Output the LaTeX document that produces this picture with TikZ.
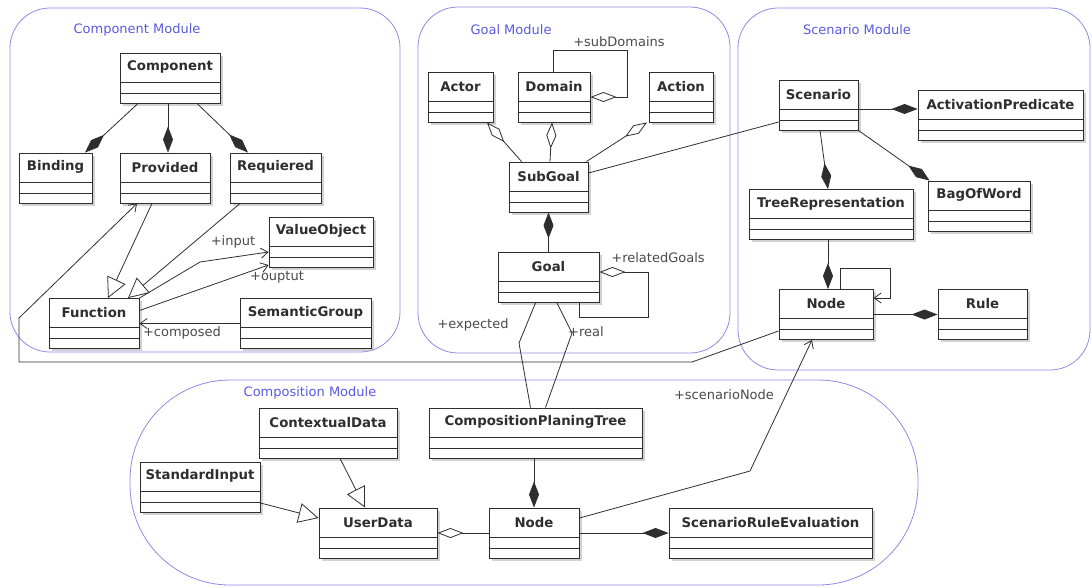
\documentclass[tikz,border=0pt]{standalone}
\usepackage{fontspec}
\setmainfont{DejaVu Sans}
\usetikzlibrary{arrows.meta,shadows,calc}
\definecolor{modblue}{HTML}{8C8CE6}
\definecolor{modtext}{HTML}{5A5AE0}
\definecolor{ink}{HTML}{2E2E2E}
\definecolor{lblc}{HTML}{4A4A4A}
\newcommand{\uclass}[5]{%
  \node[cls, minimum width=#4pt] (#1) at (#2,#3) {};
  \node[clsname] (#1-name) at (#1.north) {#5};}
\begin{document}
\begin{tikzpicture}[x=1pt,y=-1pt,
  module/.style={draw=modblue, line width=0.8pt, inner sep=0pt},
  modtitle/.style={font=\fontsize{13}{15}\selectfont, text=modtext, inner sep=0pt},
  cls/.style={draw=ink, line width=0.9pt, fill=white, inner sep=0pt, minimum height=50pt,
    drop shadow={shadow xshift=2.5pt, shadow yshift=-2.5pt, fill=black!35, opacity=0.5},
    path picture={
      \draw[ink, line width=0.9pt] ([yshift=-29pt]path picture bounding box.north west) -- ([yshift=-29pt]path picture bounding box.north east);
      \draw[ink, line width=0.9pt] ([yshift=-40pt]path picture bounding box.north west) -- ([yshift=-40pt]path picture bounding box.north east);}},
  clsname/.style={anchor=north, minimum height=29pt, inner sep=0pt, font=\fontsize{13.3}{15}\selectfont\bfseries, text=ink},
  conn/.style={draw=ink, line width=0.8pt},
  compo/.style={-{Diamond[length=26pt,width=10pt,fill=ink]}},
  aggr/.style={-{Diamond[open,length=26pt,width=10pt,fill=white]}},
  gen/.style={-{Triangle[open,length=20pt,width=20pt,fill=white]}},
  nav/.style={-{Straight Barb[length=7pt,width=10pt]}},
  lbl/.style={font=\fontsize{13}{15}\selectfont, text=lblc, inner sep=1pt}]
\useasboundingbox (0,0) rectangle (1092,587);

% modules
\node[module, rounded corners=40pt, minimum width=390pt, minimum height=344pt] (compmod) at (205,180) {};
\node[module, rounded corners=40pt, minimum width=312pt, minimum height=346pt] (goalmod) at (574,180) {};
\node[module, rounded corners=40pt, minimum width=352pt, minimum height=362pt] (scenmod) at (914,189) {};
\node[module, rounded corners=100pt, minimum width=788pt, minimum height=205pt] (cmpsmod) at (524,482.5) {};
\node[modtitle] (compmod-t) at (137,30) {Component Module};
\node[modtitle] (goalmod-t) at (511,30) {Goal Module};
\node[modtitle] (scenmod-t) at (857,30) {Scenario Module};
\node[modtitle] (cmpsmod-t) at (310,393) {Composition Module};

% component module classes
\uclass{component}{170}{78}{100}{Component}
\uclass{binding}{55.5}{178}{73}{Binding}
\uclass{provided}{165}{178}{90}{Provided}
\uclass{requiered}{275.5}{178}{91}{Requiered}
\uclass{valueobject}{321}{242}{104}{ValueObject}
\uclass{function}{94}{323.5}{90}{Function}
\uclass{semanticgroup}{305.5}{323.5}{131}{SemanticGroup}

% goal module classes
\uclass{actor}{460.5}{97}{65}{Actor}
\uclass{domain}{554}{97}{72}{Domain}
\uclass{action}{681}{97}{64}{Action}
\uclass{subgoal}{548.5}{187}{79}{SubGoal}
\uclass{goal}{548.5}{277.5}{101}{Goal}

% scenario module classes
\uclass{scenario}{818.5}{105}{79}{Scenario}
\uclass{activation}{1000.5}{115}{165}{ActivationPredicate}
\uclass{treerep}{831}{214.5}{164}{TreeRepresentation}
\uclass{bagofword}{979}{206}{102}{BagOfWord}
\uclass{snode}{826}{314.5}{94}{Node}
\uclass{rule}{982.5}{314.5}{89}{Rule}

% composition module classes
\uclass{contextual}{328}{433}{138}{ContextualData}
\uclass{cpt}{535.5}{433}{213}{CompositionPlaningTree}
\uclass{standardinput}{200}{487}{120}{StandardInput}
\uclass{userdata}{378}{533}{118}{UserData}
\uclass{cnode}{534}{533}{90}{Node}
\uclass{sre}{770.5}{533}{203}{ScenarioRuleEvaluation}

% component module connectors
\draw[conn, compo] ([xshift=-32pt]component.south) -- ([xshift=29.5pt]binding.north);
\draw[conn, compo] ([xshift=-2pt]component.south) -- ([xshift=3pt]provided.north);
\draw[conn, compo] ([xshift=27pt]component.south) -- ([xshift=-27.5pt]requiered.north);
\draw[conn, gen] ([xshift=-13pt]provided.south) -- ([xshift=14pt]function.north);
\draw[conn, gen] ([xshift=-35.5pt]requiered.south) -- ([xshift=34pt]function.north);
\draw[conn, nav] (function.north east) -- (200,262) -- ([yshift=-10pt]valueobject.west);
\draw[conn, nav] ([yshift=13pt]function.east) -- ([yshift=-23pt]valueobject.west);
\draw[conn, nav] (semanticgroup.west) -- (function.east);
\draw[conn, nav] ([yshift=-16.5pt]snode.west) -- (692,362) -- (19,362) -- (19,318) -- ([xshift=-28pt]provided.south);

% goal module connectors
\draw[conn, aggr] ([xshift=-27pt]subgoal.north) -- ([xshift=26.5pt]actor.south);
\draw[conn, aggr] ([xshift=1.5pt]subgoal.north) -- ([xshift=-2pt]domain.south);
\draw[conn, aggr] ([xshift=38pt]subgoal.north) -- ([xshift=-34pt]action.south);
\draw[conn, aggr] ([xshift=-1pt]domain.north) |- (627,50) |- (domain.east);
\draw[conn, compo] (goal.north) -- (subgoal.south);
\draw[conn, aggr] ([xshift=30.5pt]goal.south) |- (648,317) |- ([yshift=5.5pt]goal.east);
\draw[conn] ([yshift=14pt]subgoal.east) -- ([yshift=-17pt]scenario.west);
\draw[conn] ([xshift=-13pt]goal.south) -- (519,343) -- ([xshift=-5pt]cpt.north);
\draw[conn] ([xshift=8.5pt]goal.south) -- (572,333) -- ([xshift=10pt]cpt.north);

% scenario module connectors
\draw[conn, compo] ([yshift=-4pt]scenario.east) -- ([yshift=6pt]activation.west);
\draw[conn, compo] ([xshift=1.5pt]scenario.south) -- ([xshift=-3pt]treerep.north);
\draw[conn, compo] (scenario.south east) -- ([xshift=2pt]bagofword.north west);
\draw[conn, compo] ([xshift=-3pt]treerep.south) -- ([xshift=2pt]snode.north);
\draw[conn, nav] ([xshift=14pt]snode.north) |- (890,268) |- ([yshift=16.5pt]snode.east);
\draw[conn, compo] (snode.east) -- (rule.west);
\draw[conn, nav] ([yshift=15pt]cnode.east) -- (750,471) -- ([xshift=-14pt]snode.south);

% composition module connectors
\draw[conn, gen] ([xshift=12pt]contextual.south) -- ([xshift=-13pt]userdata.north);
\draw[conn, gen] ([yshift=-16pt]standardinput.east) -- ([yshift=15pt]userdata.west);
\draw[conn, aggr] (cnode.west) -- (userdata.east);
\draw[conn, compo] ([xshift=-1.5pt]cpt.south) -- (cnode.north);
\draw[conn, compo] (cnode.east) -- (sre.west);

% role labels
\node[lbl] (l-input) at (233,242) {+input};
\node[lbl] (l-output) at (277,277) {+ouptut};
\node[lbl] (l-composed) at (182,333) {+composed};
\node[lbl] (l-subdomains) at (619,42) {+subDomains};
\node[lbl] (l-related) at (658,258) {+relatedGoals};
\node[lbl] (l-expected) at (473,325) {+expected};
\node[lbl] (l-real) at (586,332) {+real};
\node[lbl] (l-scennode) at (724,395) {+scenarioNode};
\end{tikzpicture}
\end{document}
